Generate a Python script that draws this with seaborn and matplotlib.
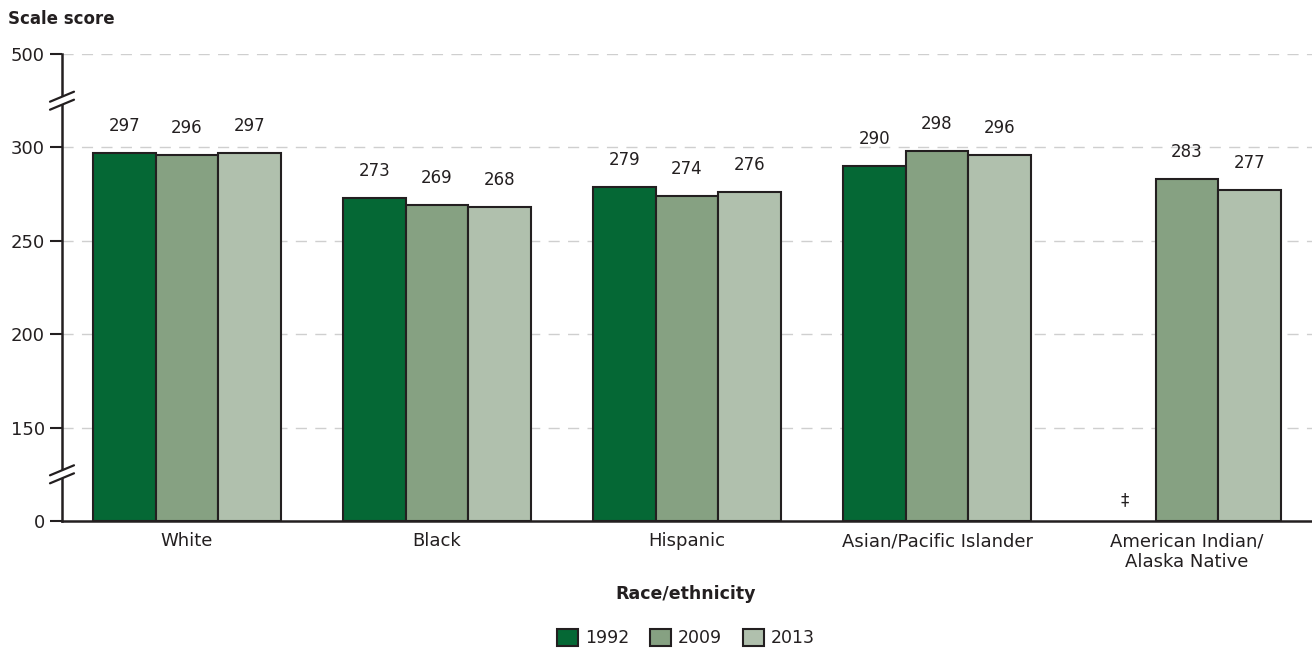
import numpy as np
import pandas as pd
import matplotlib
matplotlib.use("Agg")
import matplotlib.pyplot as plt
import seaborn as sns
from matplotlib.patches import Patch, Polygon

# data
categories = ["White", "Black", "Hispanic", "Asian/Pacific Islander",
              "American Indian/\nAlaska Native"]
years = ["1992", "2009", "2013"]
score_1992 = [297, 273, 279, 290, np.nan]   # AI/AN 1992: reporting standards not met
score_2009 = [296, 269, 274, 298, 283]
score_2013 = [297, 268, 276, 296, 277]
ytick_values = [0, 150, 200, 250, 300, 500]

colors = ["#056835", "#86a182", "#b0c0ad"]
ink = "#231f20"

df = pd.DataFrame({
    "group": categories * 3,
    "year": [y for y in years for _ in categories],
    "score": score_1992 + score_2009 + score_2013,
})


# broken axis: 0..150 squeezed, 150..300 linear, 300..500 squeezed
def fwd(v):
    v = np.asarray(v, dtype=float)
    return np.where(v < 150, v / 150, np.where(v <= 300, (v - 100) / 50, 4 + (v - 300) / 200))


def inv(p):
    p = np.asarray(p, dtype=float)
    return np.where(p < 1, p * 150, np.where(p <= 4, p * 50 + 100, 300 + (p - 4) * 200))


sns.set_style("white")
plt.rcParams["font.family"] = ["DejaVu Sans"]

fig, ax = plt.subplots(figsize=(13.12, 6.51), dpi=100)
fig.subplots_adjust(left=62 / 1312, right=1.0, bottom=1 - 521 / 651, top=1 - 54 / 651)

sns.barplot(data=df, x="group", y="score", hue="year", order=categories,
            hue_order=years, palette=colors, width=0.75, saturation=1,
            edgecolor=ink, linewidth=1.5, legend=False, ax=ax, zorder=3)

ax.set_yscale("function", functions=(fwd, inv))
ax.set_ylim(0, 500)
ax.set_xlim(-0.5, len(categories) - 0.5)
ax.set_yticks(ytick_values)
ax.set_yticklabels([str(v) for v in ytick_values])

# dashed grid
for v in ytick_values[1:]:
    ax.axhline(v, color="#cfcfcf", lw=1, ls=(0, (8, 6)), zorder=1)

# value labels
for c in ax.containers:
    labels = [f"{b.get_height():.0f}" for b in c]
    ax.bar_label(c, labels=labels, padding=13, fontsize=12, color=ink)

# missing 1992 value marker
ax.text(len(categories) - 1 - 0.25, 34, "\u2021", ha="center", va="center",
        fontsize=12, color=ink)

ax.set_xlabel("")
ax.set_ylabel("")
for s in ["top", "right"]:
    ax.spines[s].set_visible(False)
for s in ["left", "bottom"]:
    ax.spines[s].set_linewidth(1.8)
    ax.spines[s].set_color(ink)
    ax.spines[s].set_zorder(4)
ax.tick_params(axis="y", length=8.5, width=1.5, color=ink, labelsize=13,
               labelcolor=ink, pad=4, left=True)
ax.tick_params(axis="x", length=0, labelsize=13, labelcolor=ink, pad=8)

# axis break marks
aw, ah = 1250, 467
dx, dy, g = 12 / aw, 5 / ah, 4 / ah
for yc in [0.1, 0.9]:
    poly = Polygon([(-dx, yc - g - dy), (dx, yc - g + dy), (dx, yc + g + dy), (-dx, yc + g - dy)],
                   closed=True, facecolor="white", edgecolor="none",
                   transform=ax.transAxes, clip_on=False, zorder=5)
    ax.add_patch(poly)
    for off in (-g, g):
        ax.plot([-dx, dx], [yc + off - dy, yc + off + dy], color=ink, lw=1.6,
                transform=ax.transAxes, clip_on=False, zorder=6)

fig.text(8 / 1312, 1 - 19 / 651, "Scale score", fontsize=12, fontweight="bold",
         color=ink, ha="left", va="center")
fig.text(686 / 1312, 1 - 594 / 651, "Race/ethnicity", fontsize=12.5, fontweight="bold",
         color=ink, ha="center", va="center")

handles = [Patch(facecolor=col, edgecolor=ink, linewidth=1.5) for col in colors]
fig.legend(handles, years, loc="center", bbox_to_anchor=(686 / 1312, 1 - 638 / 651),
           ncol=3, frameon=False, fontsize=12.5, handlelength=1.2, handleheight=1.2,
           handletextpad=0.4, columnspacing=1.2, labelcolor=ink)

fig.savefig("out.png", dpi=100)
